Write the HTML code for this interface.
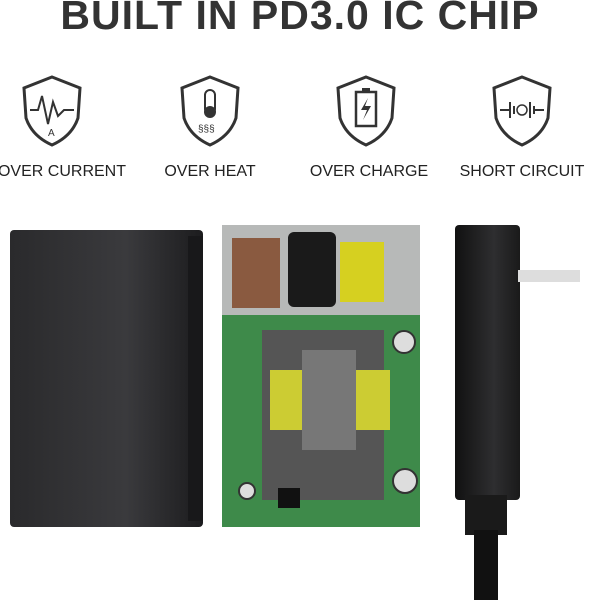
<!DOCTYPE html>
<html><head><style>
body{margin:0;width:600px;height:600px;background:#fff;position:relative;overflow:hidden;font-family:"Liberation Sans",sans-serif}
.t{position:absolute;top:-8px;left:0;width:600px;text-align:center;font-weight:900;font-size:41px;letter-spacing:1px;color:#333}
.lbl{position:absolute;top:163px;font-size:16px;color:#222;text-align:center;width:150px}
.ic{position:absolute;top:74px}
.a{position:absolute}
.c{position:absolute;border-radius:50%;background:#ddd;border:2px solid #333}
</style></head><body>
<div class="t">BUILT IN PD3.0 IC CHIP</div>
<svg class="ic" style="left:20px" width="64" height="74" viewBox="0 0 64 74"><path d="M32 3 L60 14 L58 44 Q52 62 32 71 Q12 62 6 44 L4 14 Z" fill="none" stroke="#333" stroke-width="3"/><path d="M10 36 L18 36 L22 22 L28 50 L33 28 L38 42 L44 36 L54 36" fill="none" stroke="#333" stroke-width="2"/><text x="28" y="62" font-size="10" fill="#333">A</text></svg>
<svg class="ic" style="left:178px" width="64" height="74" viewBox="0 0 64 74"><path d="M32 3 L60 14 L58 44 Q52 62 32 71 Q12 62 6 44 L4 14 Z" fill="none" stroke="#333" stroke-width="3"/><rect x="27" y="16" width="10" height="24" rx="5" fill="none" stroke="#333" stroke-width="2"/><circle cx="32" cy="38" r="6" fill="#333"/><text x="20" y="58" font-size="10" fill="#333">§§§</text></svg>
<svg class="ic" style="left:334px" width="64" height="74" viewBox="0 0 64 74"><path d="M32 3 L60 14 L58 44 Q52 62 32 71 Q12 62 6 44 L4 14 Z" fill="none" stroke="#333" stroke-width="3"/><rect x="22" y="18" width="20" height="34" fill="none" stroke="#333" stroke-width="2.5"/><rect x="28" y="14" width="8" height="4" fill="#333"/><path d="M34 24 L27 36 L33 36 L29 46 L37 32 L31 32 Z" fill="#333"/></svg>
<svg class="ic" style="left:490px" width="64" height="74" viewBox="0 0 64 74"><path d="M32 3 L60 14 L58 44 Q52 62 32 71 Q12 62 6 44 L4 14 Z" fill="none" stroke="#333" stroke-width="3"/><path d="M10 36 H20 M20 28 V44 M24 32 V40 M40 28 V44 M44 32 V40 M44 36 H54" stroke="#333" stroke-width="2"/><circle cx="32" cy="36" r="5" fill="none" stroke="#333" stroke-width="1.5"/></svg>
<div class="lbl" style="left:-13px">OVER CURRENT</div>
<div class="lbl" style="left:135px">OVER HEAT</div>
<div class="lbl" style="left:294px">OVER CHARGE</div>
<div class="lbl" style="left:447px">SHORT CIRCUIT</div>
<div class="a" style="left:10px;top:230px;width:193px;height:297px;background:linear-gradient(90deg,#2a2a2c,#3a3a3d 60%,#1c1c1e);border-radius:4px"></div>
<div class="a" style="left:188px;top:236px;width:15px;height:285px;background:#18181a"></div>
<div class="a" style="left:222px;top:225px;width:198px;height:302px;background:#3e8a4a"></div>
<div class="a" style="left:222px;top:225px;width:198px;height:90px;background:#b7b9b8"></div>
<div class="a" style="left:232px;top:238px;width:48px;height:70px;background:#8a5a40"></div>
<div class="a" style="left:288px;top:232px;width:48px;height:75px;background:#1a1a1a;border-radius:6px"></div>
<div class="a" style="left:340px;top:242px;width:44px;height:60px;background:#d6d020"></div>
<div class="a" style="left:262px;top:330px;width:122px;height:170px;background:#555"></div>
<div class="a" style="left:270px;top:370px;width:120px;height:60px;background:#cccc33"></div>
<div class="a" style="left:302px;top:350px;width:54px;height:100px;background:#777"></div>
<div class="c" style="left:392px;top:330px;width:20px;height:20px"></div>
<div class="c" style="left:392px;top:468px;width:22px;height:22px"></div>
<div class="c" style="left:238px;top:482px;width:14px;height:14px"></div>
<div class="a" style="left:278px;top:488px;width:22px;height:20px;background:#111"></div>
<div class="a" style="left:455px;top:225px;width:65px;height:275px;background:linear-gradient(90deg,#111,#2e2e30 60%,#1a1a1a);border-radius:4px"></div>
<div class="a" style="left:518px;top:270px;width:62px;height:12px;background:#ddd"></div>
<div class="a" style="left:465px;top:495px;width:42px;height:40px;background:#1a1a1a"></div>
<div class="a" style="left:474px;top:530px;width:24px;height:70px;background:#111"></div>
</body></html>
